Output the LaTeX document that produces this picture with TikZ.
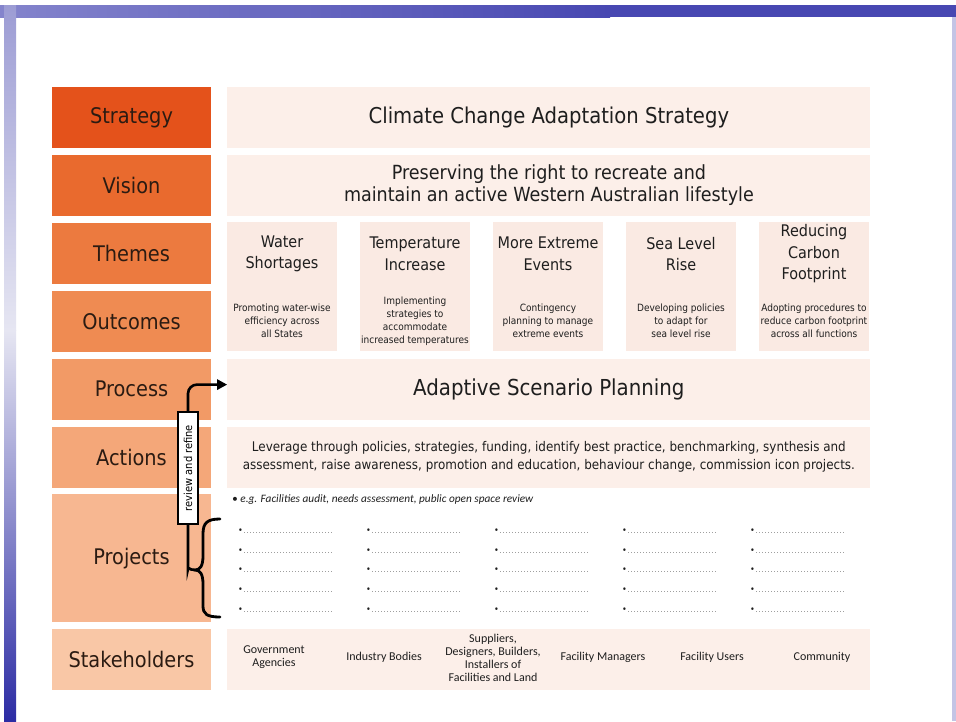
\documentclass[tikz,border=0pt]{standalone}
\usepackage{fontspec}
\setmainfont{DejaVu Sans Condensed}
\newfontfamily\narrowfont{Carlito}
\usetikzlibrary{positioning, arrows.meta, calc}

\definecolor{stratcol}{HTML}{E4521B}
\definecolor{visioncol}{HTML}{E96A2E}
\definecolor{themescol}{HTML}{EC7A3F}
\definecolor{outcomecol}{HTML}{EF8B52}
\definecolor{processcol}{HTML}{F29A66}
\definecolor{actioncol}{HTML}{F4A779}
\definecolor{projectcol}{HTML}{F7B791}
\definecolor{holdercol}{HTML}{F9C7A6}
\definecolor{bandpink}{HTML}{FCEFE9}
\definecolor{themepink}{HTML}{FAEAE3}
\definecolor{labeltxt}{HTML}{2B1B12}
\definecolor{maintxt}{HTML}{1E1E1E}
\definecolor{slidelight}{HTML}{8484CC}
\definecolor{slidedark}{HTML}{4848B2}
\definecolor{stripmid}{HTML}{E6E6F2}
\definecolor{striptop}{HTML}{9C9CD4}
\definecolor{stripbot}{HTML}{2C2CA4}

\newcommand{\projdots}{\fontsize{9}{9}\selectfont\textbullet\fontsize{6}{6}\selectfont\hbox to 90pt{\xleaders\hbox to 3pt{\hss.\hss}\hfill}}

\begin{document}
\begin{tikzpicture}[x=1pt, y=-1pt,
    node distance=6.5pt and 16pt,
    side/.style={rectangle, minimum width=159pt, minimum height=61pt, inner sep=0pt, text=labeltxt, font=\fontsize{21.5}{25}\selectfont},
    band/.style={rectangle, fill=bandpink, minimum width=643pt, minimum height=61pt, inner sep=0pt, align=center, text=maintxt},
    theme/.style={rectangle, fill=themepink, minimum width=110pt, minimum height=129pt, inner sep=0pt},
    themetitle/.style={align=center, text=maintxt, font=\fontsize{16}{21.5}\selectfont},
    themesub/.style={align=center, text=maintxt, font=\fontsize{10}{13}\selectfont},
    holder/.style={align=center, text=maintxt, font=\narrowfont\fontsize{12}{13}\selectfont},
    dotline/.style={anchor=west, inner sep=0pt, text=maintxt},
    review/.style={rectangle, draw=black, line width=1.3pt, fill=white, rotate=90, minimum width=112pt, minimum height=20pt, inner sep=1pt, font=\fontsize{11}{12}\selectfont},
    loopline/.style={line width=2.6pt, -{Triangle[length=10pt, width=10pt]}, rounded corners=9pt},
    brace/.style={line width=2.8pt, line cap=round}
]
    % slide background
    \useasboundingbox (0,0) rectangle (956,721);
    \fill[white] (0,0) rectangle (956,721);
    \fill[slidedark] (0,5) rectangle (956,17);
    \shade[left color=slidelight, right color=slidedark] (0,5) rectangle (610,17);
    \shade[top color=striptop, bottom color=stripmid] (4,5) rectangle (16,330);
    \shade[top color=stripmid, bottom color=stripbot] (4,330) rectangle (16,721);
    \fill[striptop!60] (952,17) rectangle (956,721);

    % left column
    \node[side, fill=stratcol] (strategy) at (131.5,117.5) {Strategy};
    \node[side, fill=visioncol, below=of strategy] (vision) {Vision};
    \node[side, fill=themescol, below=of vision] (themes) {Themes};
    \node[side, fill=outcomecol, below=of themes] (outcomes) {Outcomes};
    \node[side, fill=processcol, below=of outcomes] (process) {Process};
    \node[side, fill=actioncol, below=of process] (actions) {Actions};
    \node[side, fill=projectcol, minimum height=128pt, below=of actions] (projects) {Projects};
    \node[side, fill=holdercol, below=of projects] (stakeholders) {Stakeholders};

    % right column
    \node[band, right=of strategy, font=\fontsize{21.8}{25}\selectfont] (strategytxt) {Climate Change Adaptation Strategy};
    \node[band, right=of vision, font=\fontsize{19.5}{22}\selectfont] (visiontxt) {Preserving the right to recreate and\\maintain an active Western Australian lifestyle};
    \node[band, right=of process, font=\fontsize{22}{25}\selectfont] (processtxt) {Adaptive Scenario Planning};
    \node[band, right=of actions, font=\fontsize{13.3}{18}\selectfont] (actionstxt) {Leverage through policies, strategies, funding, identify best practice, benchmarking, synthesis and\\assessment, raise awareness, promotion and education, behaviour change, commission icon projects.};
    \node[band, right=of stakeholders] (holderband) {};

    % themes and outcomes
    \foreach \i/\ttl/\sub in {
        1/{Water\\Shortages}/{Promoting water-wise\\efficiency across\\all States},
        2/{Temperature\\Increase}/{Implementing\\strategies to\\accommodate\\increased temperatures},
        3/{More Extreme\\Events}/{Contingency\\planning to manage\\extreme events},
        4/{Sea Level\\Rise}/{Developing policies\\to adapt for\\sea level rise},
        5/{Reducing\\Carbon\\Footprint}/{Adopting procedures to\\reduce carbon footprint\\across all functions}} {
        \node[theme] (th\i) at (149+133*\i,286.5) {};
        \node[themetitle] (th\i-title) at ($(th\i.north)+(0,32)$) {\ttl};
        \node[themesub] (th\i-sub) at ($(th\i.north)+(0,99)$) {\sub};
    }

    % projects
    \node[anchor=west, inner sep=0pt, text=maintxt, font=\narrowfont\itshape\fontsize{11.3}{12}\selectfont] (example) at (232,500) {\textbullet\ e.g. Facilities audit, needs assessment, public open space review};
    \foreach \c in {0,...,4} {
        \foreach \r in {0,...,4} {
            \node[dotline] (pr-\c-\r) at (238+128*\c,531+19.8*\r) {\projdots};
        }
    }

    % stakeholders
    \foreach \x/\txt/\nm in {274/{Government\\Agencies}/gov, 384/{Industry Bodies}/ind,
        493/{Suppliers,\\Designers, Builders,\\Installers of\\Facilities and Land}/sup,
        603/{Facility Managers}/mgr, 712/{Facility Users}/usr, 822/{Community}/com} {
        \node[holder] (sh-\nm) at (\x,657.5) {\txt};
    }

    % review loop
    \coordinate (cusp) at (195,570);
    \draw[brace] (220,519) .. controls (207,519) and (203,523) .. (203,534) -- (203,556)
        .. controls (203,566) and (200,570) .. (cusp)
        .. controls (200,570) and (203,574) .. (203,584) -- (203,606)
        .. controls (203,614) and (207,617) .. (220,617);
    \draw[loopline] (cusp) .. controls (189,570) and (188,566) .. (188,560) |- ([yshift=4.5pt]process.east -| processtxt.west);
    \node[review] (review) at (188,468) {review and refine};

\end{tikzpicture}
\end{document}
